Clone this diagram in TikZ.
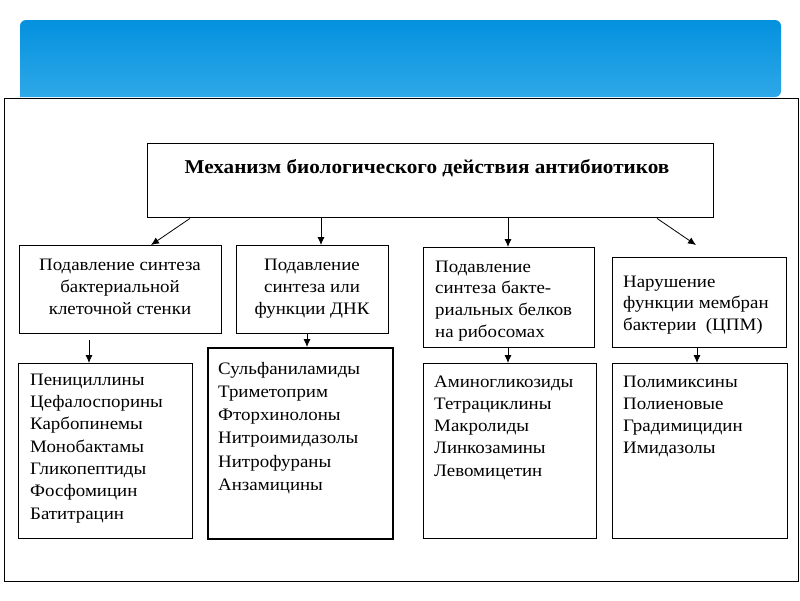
\documentclass[tikz,border=0pt]{standalone}
\usepackage{fontspec}
\setmainfont[FakeStretch=1.08]{Liberation Serif}
\usetikzlibrary{arrows.meta}
\definecolor{bantop}{HTML}{0491DE}
\definecolor{banbot}{HTML}{2EA8E8}
\tikzset{
  box/.style={draw=black, line width=1.4pt, anchor=north west, inner sep=0pt, fill=white},
  thickbox/.style={box, line width=2.4pt},
  arr/.style={draw=black, line width=0.8pt, -{Latex[length=8pt,width=7pt]}},
  txt/.style={inner sep=0pt, font=\fontsize{17.5}{21}\selectfont},
  ttl/.style={inner sep=0pt, font=\fontsize{19.6}{24}\selectfont\bfseries},
}
\begin{document}
\begin{tikzpicture}[x=1pt,y=-1pt]
\useasboundingbox (0,0) rectangle (800,600);
% banner
\shade[top color=bantop, bottom color=banbot, rounded corners=6pt]
  (20,97) -- (20,20) -- (781,20) -- (781,97) [sharp corners] -- cycle;
% frame
\node[draw=black, line width=1.4pt, anchor=north west, inner sep=0pt, fill=white,
      minimum width=794pt, minimum height=483pt] (frame) at (4,98) {};
% title box
\node[box, minimum width=566pt, minimum height=74pt] (title) at (147,143) {};
\node[ttl, anchor=base] (ttltext) at (427,173) {Механизм биологического действия антибиотиков};
% row 2 boxes
\node[box, minimum width=202pt, minimum height=88pt] (b1) at (19,245) {};
\node[box, minimum width=152pt, minimum height=88pt] (b2) at (236,245) {};
\node[box, minimum width=171pt, minimum height=100pt] (b3) at (423,247) {};
\node[box, minimum width=174pt, minimum height=90pt] (b4) at (612,257) {};
% row 3 boxes
\node[box, minimum width=174pt, minimum height=175pt] (b5) at (18,363) {};
\node[thickbox, minimum width=185pt, minimum height=191pt] (b6) at (207,347) {};
\node[box, minimum width=173pt, minimum height=175pt] (b7) at (423,363) {};
\node[box, minimum width=175pt, minimum height=175pt] (b8) at (612,363) {};
% texts row 2
\foreach \t [count=\i] in {Подавление синтеза, бактериальной, клеточной стенки}
  \node[txt, anchor=base] (t1l\i) at (120,248+22*\i) {\t};
\foreach \t [count=\i] in {Подавление, синтеза или, функции ДНК}
  \node[txt, anchor=base] (t2l\i) at (312,248+22*\i) {\t};
\foreach \t [count=\i] in {Подавление, синтеза бакте-, риальных белков, на рибосомах}
  \node[txt, anchor=base west] (t3l\i) at (435,250.5+21.7*\i) {\t};
\foreach \t [count=\i] in {Нарушение, функции мембран, бактерии~~(ЦПМ)}
  \node[txt, anchor=base west] (t4l\i) at (623,265.5+21.5*\i) {\t};
% texts row 3
\foreach \t [count=\i] in {Пенициллины, Цефалоспорины, Карбопинемы, Монобактамы, Гликопептиды, Фосфомицин, Батитрацин}
  \node[txt, anchor=base west] (t5l\i) at (30,363+22.3*\i) {\t};
\foreach \t [count=\i] in {Сульфаниламиды, Триметоприм, Фторхинолоны, Нитроимидазолы, Нитрофураны, Анзамицины}
  \node[txt, anchor=base west] (t6l\i) at (218,351+23.2*\i) {\t};
\foreach \t [count=\i] in {Аминогликозиды, Тетрациклины, Макролиды, Линкозамины, Левомицетин}
  \node[txt, anchor=base west] (t7l\i) at (434,365+22.2*\i) {\t};
\foreach \t [count=\i] in {Полимиксины, Полиеновые, Градимицидин, Имидазолы}
  \node[txt, anchor=base west] (t8l\i) at (623,365+22.2*\i) {\t};
% arrows
\coordinate (a4end) at (696,245);
\coordinate (a5start) at (89,340);
\draw[arr] ([xshift=43pt]title.south west) -- ([xshift=132pt]b1.north west);
\draw[arr] ([xshift=174pt]title.south west) -- ([xshift=85pt]b2.north west);
\draw[arr] ([xshift=361pt]title.south west) -- ([xshift=85pt]b3.north west);
\draw[arr] ([xshift=510pt]title.south west) -- (a4end);
\draw[arr] (a5start) -- ([xshift=71pt]b5.north west);
\draw[arr] ([xshift=71pt]b2.south west) -- ([xshift=100pt]b6.north west);
\draw[arr] ([xshift=85pt]b3.south west) -- ([xshift=85pt]b7.north west);
\draw[arr] ([xshift=85pt]b4.south west) -- ([xshift=85pt]b8.north west);
\end{tikzpicture}
\end{document}
